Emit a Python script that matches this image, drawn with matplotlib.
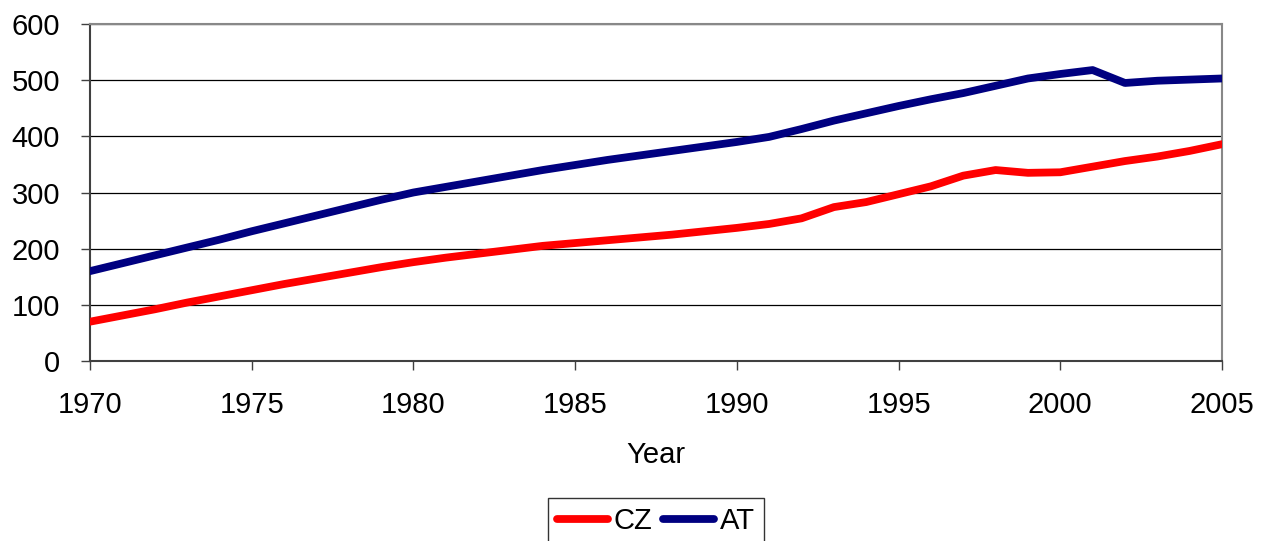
import matplotlib
matplotlib.use("Agg")
import matplotlib.pyplot as plt

years = list(range(1970, 2006))
cz = [70, 81, 92, 104, 115, 126, 137, 147, 157, 167, 176,
      184, 191, 198, 205, 210, 215, 220, 225, 231, 237,
      244, 254, 274, 283, 297, 311, 330, 340, 335, 336,
      346, 356, 364, 374, 386]
at = [160, 174, 188, 202, 216, 231, 245, 259, 273, 287, 300,
      310, 320, 330, 340, 349, 358, 366, 374, 382, 390,
      399, 413, 428, 441, 454, 466, 477, 490, 503, 511,
      518, 495, 499, 501, 503]
yticks = [0, 100, 200, 300, 400, 500, 600]
xticks = [1970, 1975, 1980, 1985, 1990, 1995, 2000, 2005]

plt.rcParams['font.family'] = ['Liberation Sans', 'DejaVu Sans']

fig = plt.figure(figsize=(12.64, 5.41), dpi=100)
ax = fig.add_axes([90/1264, 1-361/541, (1222-90)/1264, (361-24)/541])

ax.plot(years, cz, color='#ff0000', lw=5.6, solid_capstyle='round', solid_joinstyle='round', label='CZ', zorder=3)
ax.plot(years, at, color='#000080', lw=5.6, solid_capstyle='round', solid_joinstyle='round', label='AT', zorder=3)

ax.set_xlim(1970, 2005)
ax.set_ylim(0, 600)
ax.set_xticks(xticks)
ax.set_yticks(yticks)
ax.tick_params(axis='both', labelsize=21, direction='out', length=6.5, width=1, color='#404040')
ax.tick_params(axis='x', pad=15)
ax.tick_params(axis='y', pad=15)
ax.yaxis.grid(True, color='#000000', lw=0.9)
ax.set_axisbelow(True)
for s in ['top', 'right']:
    ax.spines[s].set_color('#888888')
    ax.spines[s].set_linewidth(1.5)
for s in ['left', 'bottom']:
    ax.spines[s].set_color('#404040')
    ax.spines[s].set_linewidth(1.5)

ax.set_xlabel('Year', fontsize=21, labelpad=16)

leg = fig.legend(loc='upper center', bbox_to_anchor=(656/1264, 1-498/541), ncol=2,
                 fontsize=21, frameon=True, fancybox=False, handlelength=1.75,
                 handletextpad=0.2, columnspacing=0.37, borderpad=0.3, borderaxespad=0)
leg.get_frame().set_edgecolor('#000000')
leg.get_frame().set_linewidth(1.0)

fig.savefig('out.png', dpi=100)
